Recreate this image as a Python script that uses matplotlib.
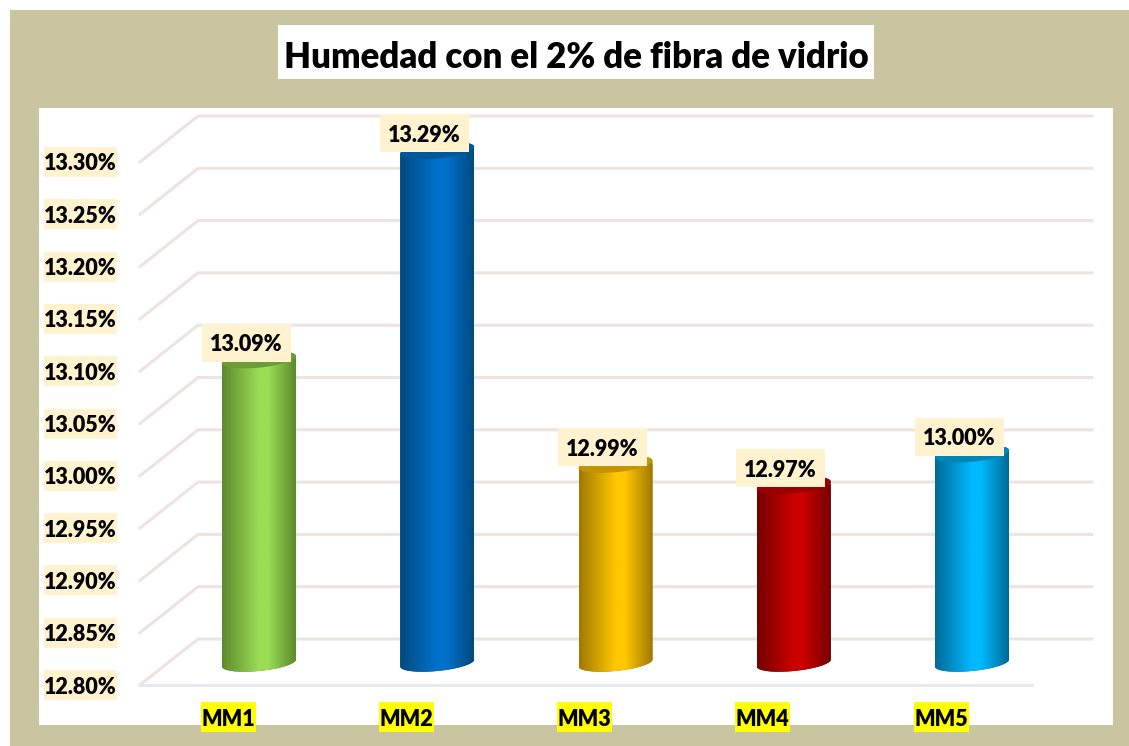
import numpy as np
import matplotlib
matplotlib.use('Agg')
import matplotlib.pyplot as plt
from matplotlib.colors import LinearSegmentedColormap
from matplotlib.patches import Rectangle, PathPatch
from matplotlib.path import Path

title = "Humedad con el 2% de fibra de vidrio"
categories = ["MM1", "MM2", "MM3", "MM4", "MM5"]
values = [13.09, 13.29, 12.99, 12.97, 13.00]
value_labels = ["13.09%", "13.29%", "12.99%", "12.97%", "13.00%"]
y_ticks = [12.80, 12.85, 12.90, 12.95, 13.00, 13.05, 13.10, 13.15, 13.20, 13.25, 13.30]
edge_colors = ["#5C8A2C", "#004A7C", "#A07800", "#750000", "#006A96"]
mid_colors = ["#9BDD55", "#0072CC", "#FFC800", "#CC0000", "#00B9FF"]
top_colors = ["#6F9C3A", "#00579A", "#C29400", "#9A0000", "#0085B5"]

TAN = "#C9C5A0"
W, H = 1129, 746
PX_X = 178.25   # px between two categories
PX_Y = 1046     # px per 1.00 on the value axis
X0, Y0 = 259, 663  # px of first bar, px of base value
BASE = 12.80

fig = plt.figure(figsize=(W / 100, H / 100), dpi=100)
plt.rcParams['font.family'] = ['Lato', 'DejaVu Sans']
ax = fig.add_axes([0, 0, 1, 1])
ax.set_xlim(-X0 / PX_X, (W - X0) / PX_X)
ax.set_ylim(BASE - (H - Y0) / PX_Y, BASE + Y0 / PX_Y)
ax.axis('off')
xlim, ylim = ax.get_xlim(), ax.get_ylim()


def dx(px):
    return px / PX_X


def dy(px):
    return px / PX_Y


def label(x, y, s, w, h, fc, size=15.5):
    # fixed size box behind the text, x and y in data units, w and h in px
    ax.add_patch(Rectangle((x - dx(w / 2), y - dy(h / 2)), dx(w), dy(h), fc=fc, ec='none', zorder=5))
    ax.text(x, y, s, ha='center', va='center_baseline', fontsize=size, fontweight='heavy',
            color='black', zorder=6)


# frame
ax.add_patch(Rectangle((0, 0), 1, 1, transform=ax.transAxes, fc='white', ec='none', zorder=0))
ax.add_patch(Rectangle((10 / W, 0), (W - 10) / W, 1 - 10 / H, transform=ax.transAxes,
                       fc=TAN, ec='none', zorder=0.1))
ax.add_patch(Rectangle((39 / W, 1 - 725 / H), (1113 - 39) / W, (725 - 108) / H, transform=ax.transAxes,
                       fc='white', ec='none', zorder=0.2))
ax.add_patch(Rectangle((278 / W, 1 - 79 / H), (874 - 278) / W, (79 - 25) / H, transform=ax.transAxes,
                       fc='white', ec='none', zorder=0.3))
ax.text(576 / W, 1 - 54 / H, title, transform=ax.transAxes, ha='center', va='center_baseline',
        fontsize=25, fontweight='heavy', color='black', zorder=5)

# 3d grid: back wall, side wall, floor
left_front = dx(140 - X0)
left_back = dx(198 - X0)
right_back = dx(1092 - X0)
right_front = dx(1032 - X0)
for t in y_ticks:
    ax.plot([left_front, left_back, right_back], [t - dy(22), t + dy(24), t + dy(24)],
            color='#EDE3E1', lw=2.2, solid_joinstyle='miter', zorder=1)
ax.plot([left_front, right_front], [BASE - dy(22), BASE - dy(22)], color='#E4E9EF', lw=2.2, zorder=1.1)

# cylinders
cmap_pos = np.linspace(0, 1, 256).reshape(1, -1)
for i, (v, e, m, tc) in enumerate(zip(values, edge_colors, mid_colors, top_colors)):
    rx = 37
    ry = 8
    tilt = 3.5
    t_top = np.linspace(0, np.pi, 40)
    t_bot = np.linspace(np.pi, 2 * np.pi, 40)
    px = np.concatenate([rx * np.cos(t_top), rx * np.cos(t_bot)])
    top_y = dy(ry * np.sin(t_top) + tilt * np.cos(t_top))
    bot_y = dy(ry * np.sin(t_bot) + tilt * np.cos(t_bot))
    verts = np.column_stack([i + dx(px), np.concatenate([v + top_y, BASE + bot_y])])
    body = PathPatch(Path(np.vstack([verts, verts[0]])), fc='none', ec='none', zorder=2)
    ax.add_patch(body)
    bar = ax.bar(i, v - BASE + dy(12), bottom=BASE - dy(12), width=dx(74), color=e, zorder=2)[0]
    bar.set_clip_path(body)
    cmap = LinearSegmentedColormap.from_list('c' + str(i), [(0, e), (0.5, m), (0.62, m), (1, e)], N=256)
    im = ax.imshow(cmap_pos, cmap=cmap, aspect='auto', zorder=2.1, interpolation='bilinear',
                   extent=(i - dx(rx), i + dx(rx), BASE - dy(12), v + dy(12)))
    im.set_clip_path(body)
    ang = np.linspace(0, 2 * np.pi, 80)
    cap = np.column_stack([i + dx(rx * np.cos(ang)), v + dy(ry * np.sin(ang) + tilt * np.cos(ang))])
    ax.add_patch(PathPatch(Path(cap), fc=tc, ec='none', zorder=2.2))

ax.set_xlim(xlim)
ax.set_ylim(ylim)

# labels
for i, (v, s) in enumerate(zip(values, value_labels)):
    label(i - dx(13), v + dy(17), s, 89, 38, '#FFF2CE')

for t in y_ticks:
    label(dx(80.5 - X0), t - dy(22), f"{t:.2f}%", 73, 30, '#FFF2CE')

for i, c in enumerate(categories):
    label(i - dx(31), BASE - dy(54), c, 55, 30, '#FFFF00')

fig.savefig('out.png', dpi=100)
